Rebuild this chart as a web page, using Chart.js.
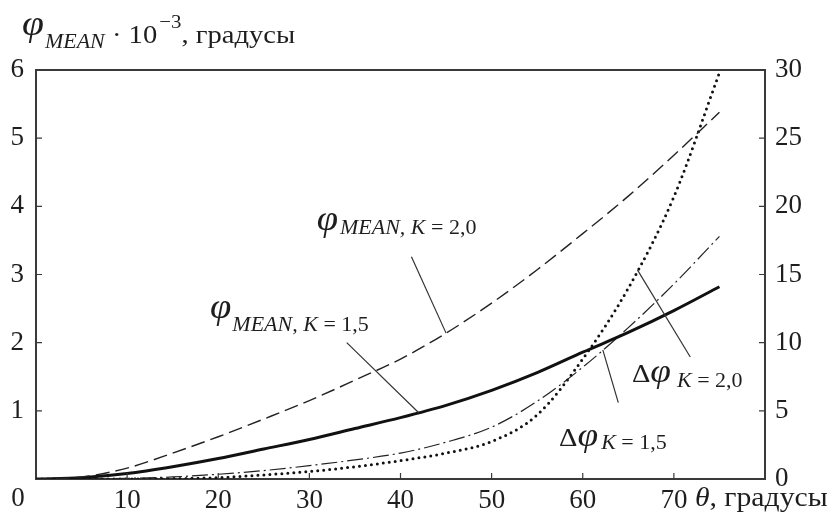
<!DOCTYPE html>
<html>
<head>
<meta charset="utf-8">
<script src="https://cdn.jsdelivr.net/npm/chart.js@4.4.1/dist/chart.umd.min.js"></script>
<style>
  html, body { margin: 0; padding: 0; background: #fff; }
  #wrap { width: 834px; height: 516px; position: relative; }
</style>
</head>
<body>
<div id="wrap"><canvas id="chart"></canvas></div>
<script>
'use strict';
//___________DATA__________________
var theta    = [0, 5, 10, 15, 20, 25, 30, 35, 40, 45, 50, 55, 60, 65, 70, 75];
// phi_MEAN * 10^-3, left axis
var meanK15  = [0, 0.02, 0.08, 0.18, 0.30, 0.44, 0.58, 0.74, 0.90, 1.08, 1.30, 1.56, 1.86, 2.15, 2.47, 2.82];
var meanK20  = [0, 0.03, 0.16, 0.38, 0.62, 0.88, 1.15, 1.45, 1.76, 2.14, 2.58, 3.07, 3.60, 4.15, 4.75, 5.38];
// delta phi, right axis
var deltaK15 = [0, 0, 0.05, 0.15, 0.35, 0.62, 0.98, 1.40, 1.90, 2.70, 3.80, 5.70, 8.20, 11.1, 14.3, 17.8];
var deltaK20 = [0, 0, 0, 0.03, 0.10, 0.30, 0.55, 0.90, 1.35, 1.90, 2.75, 4.70, 8.80, 14.0, 20.7, 29.8];

var xTickLabels     = ['0', '10', '20', '30', '40', '50', '60', '70'];
var leftTickLabels  = ['1', '2', '3', '4', '5', '6'];
var rightTickLabels = ['0', '5', '10', '15', '20', '25', '30'];

//___________STYLE_________________
var SERIF = '"Liberation Serif", "Times New Roman", serif';
var INK = '#1e1e1e';
var AXIS = '#3a3a3a';
var STRETCH = 1.1; // the printed typeface is a bit wider than Liberation Serif

function pts(ys) {
  var out = [];
  for (var i = 0; i < theta.length; i++) out.push({x: theta[i], y: ys[i]});
  return out;
}
// linear read of a series at some theta (for leader line ends)
function valueAt(ys, t) {
  for (var i = 1; i < theta.length; i++) {
    if (t <= theta[i]) {
      var f = (t - theta[i - 1]) / (theta[i] - theta[i - 1]);
      return ys[i - 1] + f * (ys[i] - ys[i - 1]);
    }
  }
  return ys[ys.length - 1];
}

function font(size, italic) {
  return (italic ? 'italic ' : '') + size + 'px ' + SERIF;
}
// draws text pieces one after another, each with its own font / vertical shift
function drawRuns(ctx, x, y, parts) {
  parts.forEach(function(p) {
    ctx.font = p.f;
    x += (p.dx || 0);
    ctx.save();
    ctx.translate(x, y + (p.dy || 0));
    ctx.scale(STRETCH, 1);
    ctx.fillText(p.t, 0, 0);
    ctx.restore();
    x += ctx.measureText(p.t).width * STRETCH;
  });
}

//___________ANNOTATIONS (theta / left-axis units)_________________
var notes = [
  {at: [30.8, 3.65], parts: [{t: 'φ', f: font(35, true)}, {t: 'MEAN, K', f: font(20, true), dx: 2, dy: 4}, {t: ' = 2,0', f: font(20), dy: 4}],
   from: [41.2, 3.26], to: {series: meanK20, axis: 'y', t: 45}},
  {at: [19.1, 2.36], parts: [{t: 'φ', f: font(35, true)}, {t: 'MEAN, K', f: font(20, true), dx: 1, dy: 13}, {t: ' = 1,5', f: font(20), dy: 13}],
   from: [34.1, 2.0], to: {series: meanK15, axis: 'y', t: 42}},
  {at: [65.4, 1.42], parts: [{t: 'Δ', f: font(26)}, {t: 'φ', f: font(34, true)}, {t: 'K', f: font(20, true), dx: 6, dy: 5}, {t: ' = 2,0', f: font(20), dy: 5}],
   from: [71.8, 1.79], to: {series: deltaK20, axis: 'y2', t: 66}},
  {at: [57.4, 0.48], parts: [{t: 'Δ', f: font(26)}, {t: 'φ', f: font(34, true)}, {t: 'K', f: font(20, true), dx: 3, dy: 3}, {t: ' = 1,5', f: font(20), dy: 3}],
   from: [63.9, 1.12], to: {series: deltaK15, axis: 'y2', t: 62.2}}
];

var decor = {
  id: 'decor',
  afterDraw: function(chart) {
    var ctx = chart.ctx, a = chart.chartArea;
    var sx = chart.scales.x, yl = chart.scales.y, yr = chart.scales.y2;
    ctx.save();
    // top of frame
    ctx.strokeStyle = AXIS;
    ctx.lineWidth = 2;
    ctx.beginPath();
    ctx.moveTo(a.left - 1, a.top);
    ctx.lineTo(a.right + 1, a.top);
    ctx.stroke();

    // inward tick marks
    ctx.lineWidth = 1.2;
    ctx.beginPath();
    for (var v = 10; v <= 70; v += 10) {
      var px = sx.getPixelForValue(v);
      ctx.moveTo(px, a.bottom); ctx.lineTo(px, a.bottom - 6);
    }
    for (var l = 1; l <= 5; l++) {
      var py = yl.getPixelForValue(l);
      ctx.moveTo(a.left, py); ctx.lineTo(a.left + 6, py);
    }
    for (var r = 5; r <= 25; r += 5) {
      var pr = yr.getPixelForValue(r);
      ctx.moveTo(a.right, pr); ctx.lineTo(a.right - 6, pr);
    }
    ctx.stroke();

    // x labels "0" and axis name
    ctx.fillStyle = INK;
    ctx.textBaseline = 'top';
    ctx.textAlign = 'center';
    ctx.font = font(27);
    var ly = sx.top + 6;
    ctx.fillText(xTickLabels[0], sx.getPixelForValue(0) - 18, ly);
    ctx.textAlign = 'left';
    drawRuns(ctx, sx.getPixelForValue(70) + 21, ly, [{t: 'θ', f: font(27, true)}, {t: ', градусы', f: font(27)}]);

    // y axis title
    ctx.textBaseline = 'alphabetic';
    drawRuns(ctx, 22, 35, [
      {t: 'φ', f: font(36, true)},
      {t: 'MEAN', f: font(20, true), dx: 1, dy: 13},
      {t: ' · 10', f: font(26), dy: 8},
      {t: '−3', f: font(19), dx: 2, dy: -7},
      {t: ', градусы', f: font(26), dy: 8}
    ]);

    // curve labels with leader lines
    ctx.lineWidth = 1.2;
    ctx.strokeStyle = '#333';
    notes.forEach(function(n) {
      var axis = chart.scales[n.to.axis];
      var ex = sx.getPixelForValue(n.to.t);
      var ey = axis.getPixelForValue(valueAt(n.to.series, n.to.t));
      ctx.beginPath();
      ctx.moveTo(sx.getPixelForValue(n.from[0]), yl.getPixelForValue(n.from[1]));
      ctx.lineTo(ex, ey);
      ctx.stroke();
      drawRuns(ctx, sx.getPixelForValue(n.at[0]), yl.getPixelForValue(n.at[1]), n.parts);
    });
    ctx.restore();
  }
};

function fixWidth(w) { return function(scale) { scale.width = w; }; }

var ctx = document.getElementById('chart').getContext('2d');
new Chart(ctx, {
  type: 'line',
  data: {
    datasets: [
      {label: 'phi mean K=2.0', data: pts(meanK20), yAxisID: 'y',
       borderColor: '#222', borderWidth: 1.4, borderDash: [14, 6]},
      {label: 'phi mean K=1.5', data: pts(meanK15), yAxisID: 'y',
       borderColor: '#111', borderWidth: 3},
      {label: 'delta phi K=1.5', data: pts(deltaK15), yAxisID: 'y2',
       borderColor: '#222', borderWidth: 1.2, borderDash: [16, 4, 2, 4]},
      {label: 'delta phi K=2.0', data: pts(deltaK20), yAxisID: 'y2',
       borderColor: '#111', borderWidth: 3, borderDash: [0, 6], borderCapStyle: 'round'}
    ]
  },
  options: {
    responsive: true,
    maintainAspectRatio: false,
    animation: false,
    layout: {padding: {top: 70, left: 0, right: 0, bottom: 0}},
    elements: {point: {radius: 0}, line: {cubicInterpolationMode: 'monotone', fill: false}},
    plugins: {legend: {display: false}, tooltip: {enabled: false}},
    scales: {
      x: {
        type: 'linear', min: 0, max: 80,
        grid: {display: false, drawTicks: false},
        border: {display: true, color: AXIS, width: 2},
        ticks: {
          stepSize: 10, padding: 6, color: INK, font: {family: SERIF, size: 27},
          callback: function(v) { return (v > 0 && v < 80) ? xTickLabels[v / 10] : ''; }
        },
        afterFit: function(scale) { scale.height = 37; }
      },
      y: {
        position: 'left', min: 0, max: 6,
        grid: {display: false, drawTicks: false},
        border: {display: true, color: AXIS, width: 2},
        ticks: {
          stepSize: 1, padding: 12, color: INK, font: {family: SERIF, size: 27},
          callback: function(v) { return v > 0 ? leftTickLabels[v - 1] : ''; }
        },
        afterFit: fixWidth(36)
      },
      y2: {
        position: 'right', min: 0, max: 30,
        grid: {display: false, drawTicks: false},
        border: {display: true, color: AXIS, width: 2},
        ticks: {
          stepSize: 5, padding: 10, color: INK, font: {family: SERIF, size: 27},
          callback: function(v) { return rightTickLabels[v / 5]; }
        },
        afterFit: fixWidth(69)
      }
    }
  },
  plugins: [decor]
});
</script>
</body>
</html>
